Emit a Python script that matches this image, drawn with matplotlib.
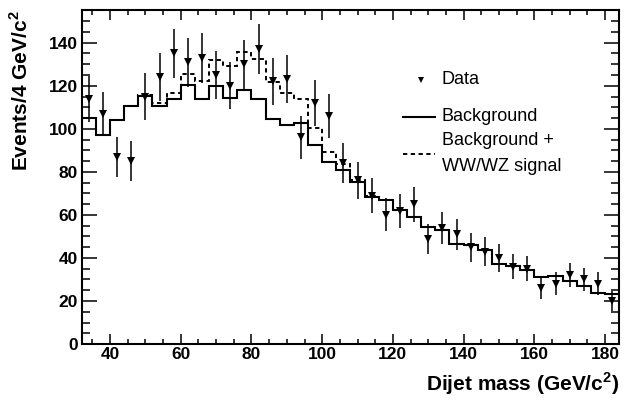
import numpy as np
import matplotlib.pyplot as plt
from matplotlib.ticker import MultipleLocator

plt.rcParams['font.family'] = ['Liberation Sans', 'DejaVu Sans']
plt.rcParams['mathtext.fontset'] = 'custom'
plt.rcParams['mathtext.rm'] = 'Liberation Sans:bold'
plt.rcParams['mathtext.bf'] = 'Liberation Sans:bold'

# ---- data (4 GeV bins from 32 to 184) ----
bin_edges = np.arange(32, 188, 4)
bin_centers = bin_edges[:-1] + 2

data_counts = [114, 107, 87, 85, 115, 124, 135, 131, 133, 125,
               120, 130, 137, 122, 123, 96, 112, 106, 84, 76,
               69, 60, 62, 65, 49, 54, 51, 45, 43, 40,
               36, 35, 26, 28, 32, 30, 28, 20]
data_errors = [10.7, 10.3, 9.3, 9.2, 10.7, 11.1, 11.6, 11.4, 11.5, 11.2,
               11.0, 11.4, 11.7, 11.0, 11.1, 9.8, 10.6, 10.3, 9.2, 8.7,
               8.3, 7.7, 7.9, 8.1, 7.0, 7.3, 7.1, 6.7, 6.6, 6.3,
               6.0, 5.9, 5.1, 5.3, 5.7, 5.5, 5.3, 4.5]

background = [105.2, 97.1, 104.2, 110.6, 115.3, 110.6, 114.0, 120.5, 114.0, 120.1,
              114.5, 118.1, 113.8, 104.5, 101.6, 102.5, 92.5, 84.5, 81.0, 75.5,
              68.4, 66.8, 62.2, 59.1, 54.4, 52.9, 46.3, 45.9, 43.5, 37.0,
              36.2, 34.2, 31.1, 31.6, 29.3, 26.9, 23.7, 23.4]
bkg_plus_signal = [105.2, 97.1, 104.2, 110.7, 115.5, 112.2, 116.8, 125.6, 122.0, 131.8,
                   129.4, 135.6, 132.4, 121.7, 116.7, 113.7, 100.2, 89.3, 83.5, 76.2,
                   68.8, 67.0, 62.3, 59.1, 54.4, 52.9, 46.3, 45.9, 43.5, 37.0,
                   36.2, 34.2, 31.1, 31.6, 29.3, 26.9, 23.7, 23.4]

x_ticks = [40, 60, 80, 100, 120, 140, 160, 180]
y_ticks = [0, 20, 40, 60, 80, 100, 120, 140]

# ---- figure ----
fig = plt.figure(figsize=(6.29, 4.01), dpi=100)
ax = fig.add_axes([0.130, 0.142, 0.8544, 0.832])

ax.stairs(bkg_plus_signal, bin_edges, baseline=None, color='black',
          linewidth=1.4, linestyle=(0, (2.2, 1.8)))
ax.stairs(background, bin_edges, baseline=None, color='black', linewidth=1.5)
ax.errorbar(bin_centers, data_counts, yerr=data_errors, fmt='v', color='black',
            markersize=6, markeredgewidth=0, elinewidth=1.1, capsize=0)

ax.set_xlim(32, 184)
ax.set_ylim(0, 155)
ax.set_xticks(x_ticks)
ax.set_yticks(y_ticks)
ax.xaxis.set_minor_locator(MultipleLocator(5))
ax.yaxis.set_minor_locator(MultipleLocator(5))
ax.tick_params(which='both', direction='in', top=True, right=True, width=1.1)
ax.tick_params(axis='x', which='major', length=7.5, pad=2)
ax.tick_params(axis='x', which='minor', length=3.8)
ax.tick_params(axis='y', which='major', length=11, pad=3)
ax.tick_params(axis='y', which='minor', length=5.5)
for lbl in ax.get_xticklabels() + ax.get_yticklabels():
    lbl.set_fontsize(12.5)
    lbl.set_fontweight('bold')
for sp in ax.spines.values():
    sp.set_linewidth(1.5)

ax.set_xlabel(r'Dijet mass (GeV/c$^{2}$)', fontsize=15, fontweight='bold',
              loc='right', labelpad=6)
ax.set_ylabel(r'Events/4 GeV/c$^{2}$', fontsize=15, fontweight='bold',
              loc='top', labelpad=12)

# ---- legend drawn by hand ----
ax.plot([0.631], [0.792], 'v', color='black', markersize=4.5, markeredgewidth=0,
        transform=ax.transAxes)
ax.plot([0.598, 0.658], [0.680, 0.680], color='black', linewidth=1.5, transform=ax.transAxes)
ax.plot([0.598, 0.658], [0.569, 0.569], color='black', linewidth=1.4,
        linestyle=(0, (2.2, 1.8)), transform=ax.transAxes)
leg_kw = dict(transform=ax.transAxes, fontsize=13, va='center', ha='left')
ax.text(0.670, 0.792, 'Data', **leg_kw)
ax.text(0.670, 0.682, 'Background', **leg_kw)
ax.text(0.670, 0.609, 'Background +', **leg_kw)
ax.text(0.670, 0.532, 'WW/WZ signal', **leg_kw)

fig.savefig('out.png', dpi=100)
